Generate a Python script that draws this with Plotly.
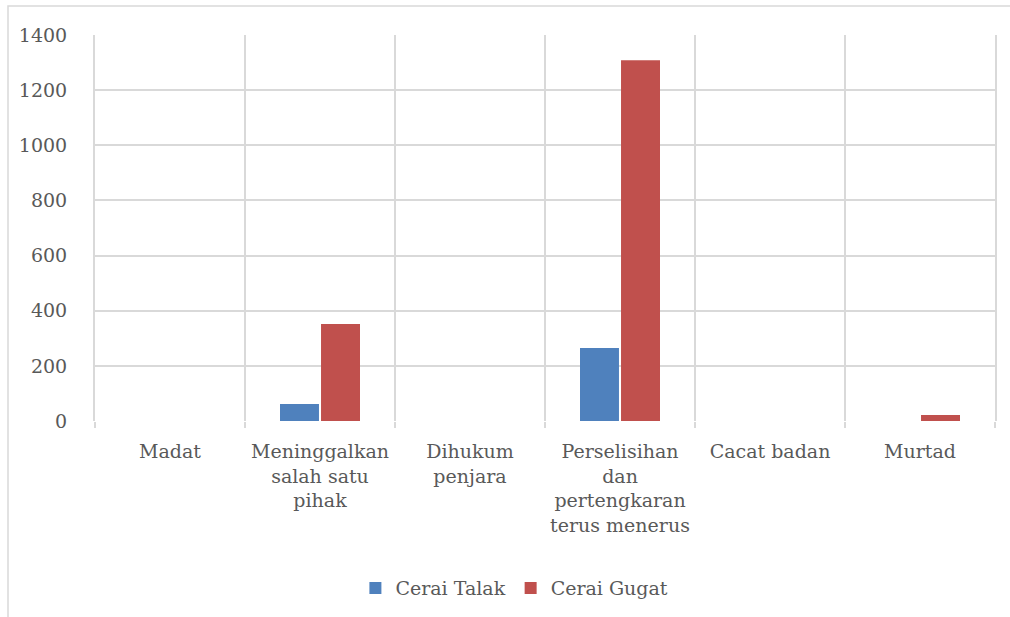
import plotly.graph_objects as go

categories = [
    "Madat",
    "Meninggalkan<br>salah satu<br>pihak",
    "Dihukum<br>penjara",
    "Perselisihan<br>dan<br>pertengkaran<br>terus menerus",
    "Cacat badan",
    "Murtad",
]
cerai_talak = [0, 62, 0, 265, 0, 0]
cerai_gugat = [0, 352, 0, 1308, 0, 22]
y_ticks = [0, 200, 400, 600, 800, 1000, 1200, 1400]

FONT = "DejaVu Serif"
GRID = "#d9d9d9"
TXT = "#595959"

fig = go.Figure()
fig.add_trace(go.Bar(name="Cerai Talak", x=categories, y=cerai_talak,
                     marker=dict(color="#4f81bd", line=dict(width=0))))
fig.add_trace(go.Bar(name="Cerai Gugat", x=categories, y=cerai_gugat,
                     marker=dict(color="#c0504d", line=dict(width=0))))

W, H = 1010, 617
L, R, T, B = 95, 15, 35, 195
pw, ph = W - L - R, H - T - B

fig.update_layout(
    width=W, height=H,
    margin=dict(l=L, r=R, t=T, b=B),
    paper_bgcolor="white", plot_bgcolor="white",
    barmode="group", bargap=0.453, bargroupgap=0.05,
    font=dict(family=FONT, size=19, color=TXT),
    showlegend=True,
    legend=dict(orientation="h", x=0.466, xanchor="center", y=-0.38, yanchor="top",
                font=dict(family=FONT, size=19, color=TXT), itemwidth=30),
    xaxis=dict(
        type="category", tickson="boundaries", showgrid=True, gridcolor=GRID, gridwidth=2,
        ticks="outside", ticklen=6, tickcolor=GRID, tickwidth=2,
        showline=False, zeroline=False, ticklabelstandoff=17,
        tickfont=dict(family=FONT, size=19, color=TXT),
    ),
    yaxis=dict(
        range=[0, 1400], tickvals=y_ticks, showgrid=True, gridcolor=GRID, gridwidth=2,
        zeroline=False, showline=True, mirror=True, linecolor=GRID, linewidth=2,
        ticks="", ticklabelstandoff=22,
        tickfont=dict(family=FONT, size=19, color=TXT),
    ),
    shapes=[dict(
        type="rect", xref="paper", yref="paper",
        x0=(8 - L) / pw, x1=1.1, y0=-0.6, y1=1 + (T - 6) / ph,
        line=dict(color=GRID, width=1.5), fillcolor="rgba(0,0,0,0)", layer="below",
    )],
)

fig.write_html("out.html")
